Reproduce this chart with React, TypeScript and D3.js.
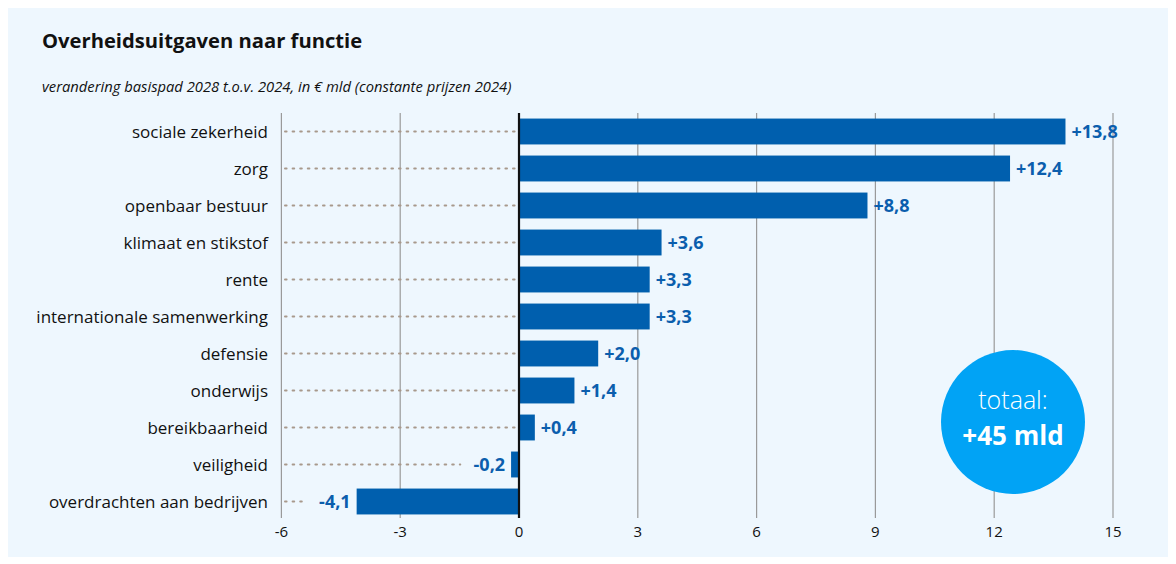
import React from "react";
import * as d3 from "d3";

const categories = [
  "sociale zekerheid",
  "zorg",
  "openbaar bestuur",
  "klimaat en stikstof",
  "rente",
  "internationale samenwerking",
  "defensie",
  "onderwijs",
  "bereikbaarheid",
  "veiligheid",
  "overdrachten aan bedrijven",
];
const values = [13.8, 12.4, 8.8, 3.6, 3.3, 3.3, 2.0, 1.4, 0.4, -0.2, -4.1];
const xTicks = [-6, -3, 0, 3, 6, 9, 12, 15];
const title = "Overheidsuitgaven naar functie";
const subtitle = "verandering basispad 2028 t.o.v. 2024, in € mld (constante prijzen 2024)";
const totalLabel = "totaal:";
const totalValue = "+45 mld";

const W = 1176;
const H = 564;
const FONT = "'Open Sans', 'Noto Sans', sans-serif";
const BAR = "#005fae";
const LABEL = "#0b5ead";

const fmt = (v: number) => (v > 0 ? "+" : v < 0 ? "-" : "") + Math.abs(v).toFixed(1).replace(".", ",");

export default function App() {
  const x = d3.scaleLinear().domain([-6, 15]).range([281.4, 1113]);
  const y = d3
    .scaleBand<string>()
    .domain(categories)
    .range([113, 520])
    .paddingInner(0.3)
    .paddingOuter(0.15);
  const gridTop = 113;
  const gridBottom = 518;

  return (
    <svg width={W} height={H} style={{ position: "absolute", left: 0, top: 0 }}>
      <rect x={0} y={0} width={W} height={H} fill="#ffffff" />
      <rect x={8} y={8} width={1160} height={549} fill="#eef7fe" />
      <text x={42} y={48} fontFamily={FONT} fontWeight={700} fontSize={20.2} fill="#111">
        {title}
      </text>
      <text x={42} y={92} fontFamily={FONT} fontStyle="italic" fontSize={14.75} fill="#111">
        {subtitle}
      </text>
      {xTicks.map((t) => (
        <g key={t}>
          {t !== 0 && (
            <line x1={x(t)} x2={x(t)} y1={gridTop} y2={gridBottom} stroke="#9a9a9a" strokeWidth={1.2} />
          )}
          <text x={x(t)} y={537} textAnchor="middle" fontFamily={FONT} fontSize={15} fill="#111">
            {t}
          </text>
        </g>
      ))}
      {categories.map((c, i) => {
        const v = values[i];
        const cy = (y(c) as number) + y.bandwidth() / 2;
        const x0 = x(0);
        const xv = x(v);
        const labelW = fmt(v).length * 9.2 + 10;
        const dotEnd = v >= 0 ? x0 - 2 : xv - labelW - 4;
        return (
          <g key={c}>
            <text x={268} y={cy + 6} textAnchor="end" fontFamily={FONT} fontSize={17} fill="#111">
              {c}
            </text>
            <line
              x1={285}
              x2={dotEnd}
              y1={cy}
              y2={cy}
              stroke="#a8998c"
              strokeWidth={2}
              strokeDasharray="1.6 6"
              strokeLinecap="round"
            />
            <rect
              x={Math.min(x0, xv)}
              y={y(c)}
              width={Math.abs(xv - x0)}
              height={y.bandwidth()}
              fill={BAR}
            />
            <text
              x={v >= 0 ? xv + 6 : xv - 6}
              y={cy + 6.5}
              textAnchor={v >= 0 ? "start" : "end"}
              fontFamily={FONT}
              fontWeight={700}
              fontSize={18}
              fill={LABEL}
            >
              {fmt(v)}
            </text>
          </g>
        );
      })}
      <line x1={x(0)} x2={x(0)} y1={gridTop} y2={gridBottom} stroke="#111" strokeWidth={2.2} />
      <circle cx={1013} cy={422} r={72} fill="#01a3f5" />
      <text x={1013} y={409} textAnchor="middle" fontFamily={FONT} fontWeight={300} fontSize={25} fill="#fff">
        {totalLabel}
      </text>
      <text x={1013} y={445} textAnchor="middle" fontFamily={FONT} fontWeight={700} fontSize={26} fill="#fff">
        {totalValue}
      </text>
    </svg>
  );
}
